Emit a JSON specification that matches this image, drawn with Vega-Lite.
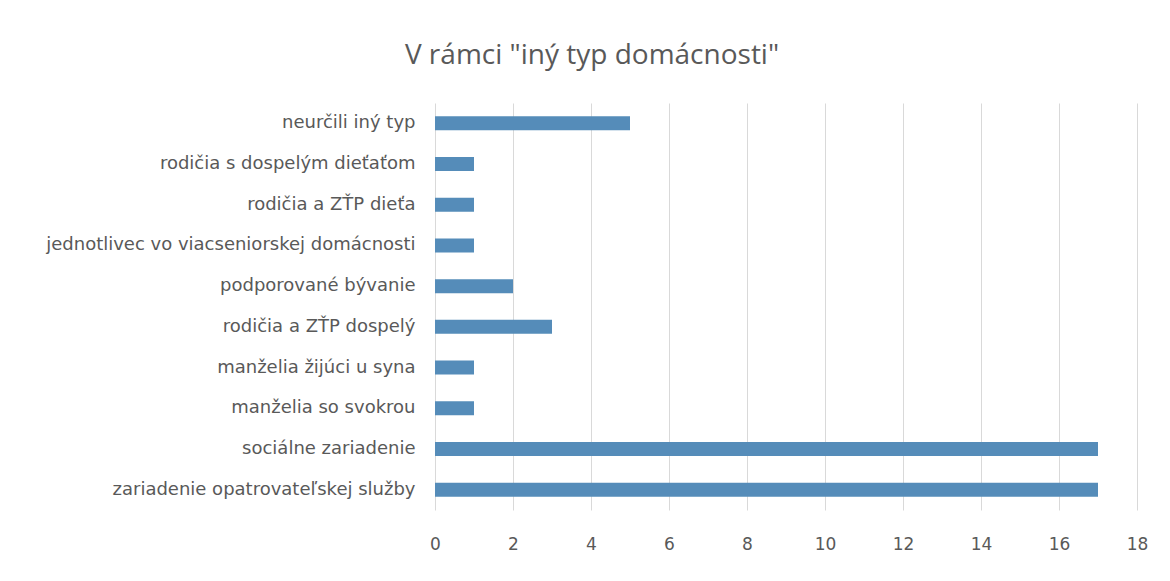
{
  "$schema": "https://vega.github.io/schema/vega-lite/v6.json",
  "autosize": {"type": "none"},
  "width": 702,
  "height": 407,
  "padding": {"left": 435, "top": 103, "right": 33, "bottom": 71},
  "background": "white",
  "title": {
    "text": "V rámci \"iný typ domácnosti\"",
    "font": "Open Sans",
    "fontSize": 28,
    "fontWeight": "normal",
    "color": "#595959",
    "anchor": "middle",
    "dx": -194,
    "offset": 33
  },
  "data": {
    "values": [
      {"typ": "neurčili iný typ", "pocet": 5},
      {"typ": "rodičia s dospelým dieťaťom", "pocet": 1},
      {"typ": "rodičia a ZŤP dieťa", "pocet": 1},
      {"typ": "jednotlivec vo viacseniorskej domácnosti", "pocet": 1},
      {"typ": "podporované bývanie", "pocet": 2},
      {"typ": "rodičia a ZŤP dospelý", "pocet": 3},
      {"typ": "manželia žijúci u syna", "pocet": 1},
      {"typ": "manželia so svokrou", "pocet": 1},
      {"typ": "sociálne zariadenie", "pocet": 17},
      {"typ": "zariadenie opatrovateľskej služby", "pocet": 17}
    ]
  },
  "mark": {"type": "bar", "color": "#558cb9"},
  "encoding": {
    "y": {
      "field": "typ",
      "type": "nominal",
      "sort": null,
      "title": null,
      "scale": {"paddingInner": 0.655, "paddingOuter": 0.3275},
      "axis": {
        "domain": false,
        "ticks": false,
        "labelPadding": 20,
        "labelFont": "DejaVu Sans",
        "labelFontSize": 18,
        "labelColor": "#595959",
        "labelLimit": 430
      }
    },
    "x": {
      "field": "pocet",
      "type": "quantitative",
      "title": null,
      "scale": {"domain": [0, 18], "nice": false},
      "axis": {
        "values": [0, 2, 4, 6, 8, 10, 12, 14, 16, 18],
        "grid": true,
        "gridColor": "#d9d9d9",
        "gridWidth": 1,
        "domain": false,
        "ticks": false,
        "labelFlush": false,
        "labelPadding": 26,
        "labelFont": "DejaVu Sans",
        "labelFontSize": 17,
        "labelColor": "#595959"
      }
    }
  },
  "config": {"view": {"stroke": null}}
}
